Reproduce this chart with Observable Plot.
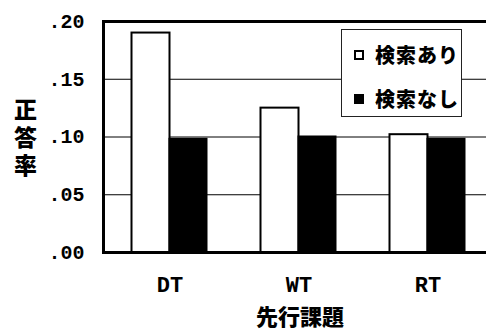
<!DOCTYPE html>
<html><head><meta charset="utf-8">
<script src="https://cdn.jsdelivr.net/npm/d3@7"></script>
<script src="https://cdn.jsdelivr.net/npm/@observablehq/plot@0.6"></script>
<style>
body{margin:0;background:#fff;}
#wrap{position:relative;width:486px;height:329px;overflow:hidden;}
#legend{position:absolute;left:341px;top:29px;width:121px;height:88px;border:1px solid #222;background:#fff;box-sizing:border-box;font-family:"Noto Sans CJK JP";font-weight:900;font-size:20px;letter-spacing:1px;}
.item{position:absolute;left:12px;height:24px;line-height:24px;display:flex;align-items:center;white-space:nowrap;}
.sw{width:10px;height:10px;box-sizing:border-box;border:2px solid #000;margin-right:11px;}
</style></head>
<body><div id="wrap"><div id="legend"></div></div>
<script>
const categories = ["DT", "WT", "RT"];
const series = ["検索あり", "検索なし"];
const withSearch = [0.190, 0.125, 0.102];
const withoutSearch = [0.098, 0.100, 0.098];
const yTicks = [0, 0.05, 0.10, 0.15, 0.20];
const yTitle = "正答率";
const xTitle = "先行課題";

const data = [];
categories.forEach((c, i) => {
  data.push({cat: c, series: series[0], value: withSearch[i]});
  data.push({cat: c, series: series[1], value: withoutSearch[i]});
});

const fmt = d => d3.format(".2f")(d).replace(/^0/, "");
const mono = "'Liberation Mono', 'DejaVu Sans Mono', monospace";
const cjk = "'Noto Sans CJK JP', sans-serif";

const chart = Plot.plot({
  width: 486, height: 329,
  marginTop: 21, marginBottom: 77, marginLeft: 103, marginRight: 0,
  x: {domain: categories, range: [104.5, 491.5], padding: 0},
  y: {domain: [0, 0.2]},
  style: {background: "white", color: "black"},
  marks: [
    Plot.gridY(yTicks.slice(1, -1), {stroke: "black", strokeOpacity: 1, strokeWidth: 1}),
    Plot.barY(data.filter(d => d.series === series[0]), {x: "cat", y: "value", fill: "white", stroke: "black", strokeWidth: 2, insetLeft: 26.5, insetRight: 64.5}),
    Plot.barY(data.filter(d => d.series === series[1]), {x: "cat", y: "value", fill: "black", stroke: "black", strokeWidth: 2, insetLeft: 64.5, insetRight: 27.5}),
    Plot.frame({anchor: "left", stroke: "black", strokeWidth: 3}),
    Plot.frame({anchor: "top", stroke: "black", strokeWidth: 3}),
    Plot.frame({anchor: "bottom", stroke: "black", strokeWidth: 3}),
    Plot.axisY({ticks: yTicks, tickSize: 0, tickPadding: 19, tickFormat: fmt, fontSize: 20, fontFamily: mono, fontWeight: "bold", label: null}),
    Plot.axisX({tickSize: 0, tickPadding: 24, fontSize: 22, fontFamily: mono, fontWeight: "bold", label: null}),
    Plot.text([yTitle], {text: d => d.split("").join("\n"), frameAnchor: "left", textAnchor: "middle", dx: -78, fontSize: 23, fontWeight: 900, fontFamily: cjk, lineHeight: 1.22, lineAnchor: "middle"}),
    Plot.text([xTitle], {text: d => d, frameAnchor: "bottom", dx: 5, dy: 65, fontSize: 22, fontWeight: 900, fontFamily: cjk, lineAnchor: "middle", letterSpacing: 5})
  ]
});
document.getElementById("wrap").prepend(chart);

const legend = document.getElementById("legend");
const fills = ["white", "black"];
const tops = [13, 57];
series.forEach((s, i) => {
  const item = document.createElement("div");
  item.className = "item";
  item.style.top = tops[i] + "px";
  const sw = document.createElement("span");
  sw.className = "sw";
  sw.style.background = fills[i];
  const t = document.createElement("span");
  t.textContent = s;
  item.append(sw, t);
  legend.append(item);
});
</script>
</body></html>
